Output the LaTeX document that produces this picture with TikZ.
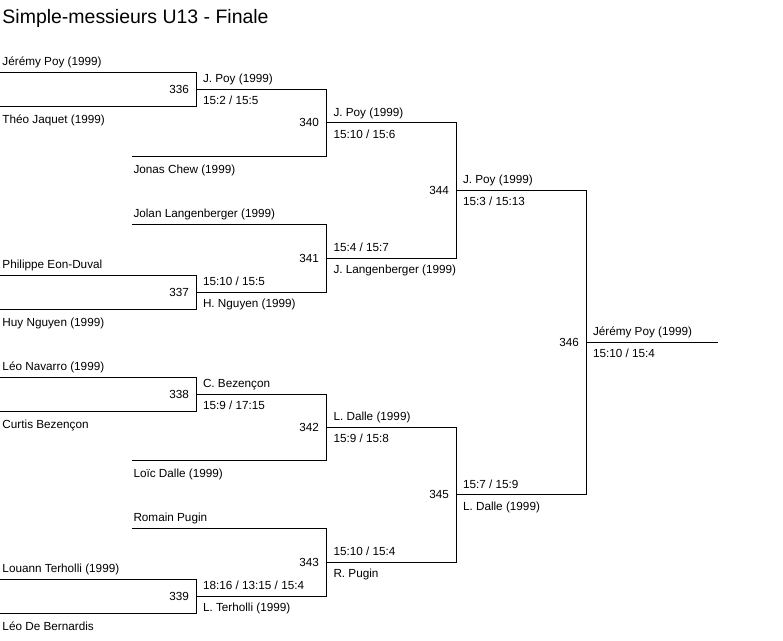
\documentclass[tikz,border=0pt]{standalone}
\usepackage{fontspec}
\setmainfont{Liberation Sans}
\usepackage{tikz}

\begin{document}
\begin{tikzpicture}[
      x=0.75pt,
      y=-0.75pt,
      line width=0.75pt,
      spieler/.style={
        anchor=base west,
        inner sep=0pt,
        font=\fontsize{8.8}{10}\selectfont
      },
      spiel/.style={
        coordinate,
        label={[inner sep=0pt,label distance=5.25pt,font=\fontsize{8.8}{10}\selectfont]left:#1}
      }
    ]
      \useasboundingbox (0,0) rectangle (783,640);

      \node (titel) at (2,23) [anchor=base west,inner sep=0pt,font=\fontsize{14.6}{17}\selectfont]{Simple-messieurs U13 - Finale};

      \begin{scope}[shift={(0.5,0.5)}]
      \coordinate (s1) at (0,72);
      \coordinate (s2) at (0,106);
      \coordinate (s3) at (131,156);
      \coordinate (s4) at (131,224);
      \coordinate (s5) at (0,275);
      \coordinate (s6) at (0,309);
      \coordinate (s7) at (0,377);
      \coordinate (s8) at (0,411);
      \coordinate (s9) at (131,460);
      \coordinate (s10) at (131,528);
      \coordinate (s11) at (0,579);
      \coordinate (s12) at (0,613);
      \coordinate (sieger) at (717,342);

      \node (m336) at (196,89) [spiel=336]{};
      \node (m337) at (196,292) [spiel=337]{};
      \node (m338) at (196,394) [spiel=338]{};
      \node (m339) at (196,596) [spiel=339]{};
      \node (m340) at (326,122) [spiel=340]{};
      \node (m341) at (326,258) [spiel=341]{};
      \node (m342) at (326,427) [spiel=342]{};
      \node (m343) at (326,562) [spiel=343]{};
      \node (m344) at (456,190) [spiel=344]{};
      \node (m345) at (456,494) [spiel=345]{};
      \node (m346) at (586,342) [spiel=346]{};
      \end{scope}

      \node (n1) at (2,65.5) [spieler]{Jérémy Poy (1999)};
      \node (n2) at (2,123.5) [spieler]{Théo Jaquet (1999)};
      \node (n3) at (133,173.5) [spieler]{Jonas Chew (1999)};
      \node (n4) at (133,217.5) [spieler]{Jolan Langenberger (1999)};
      \node (n5) at (2,268.5) [spieler]{Philippe Eon-Duval};
      \node (n6) at (2,326.5) [spieler]{Huy Nguyen (1999)};
      \node (n7) at (2,370.5) [spieler]{Léo Navarro (1999)};
      \node (n8) at (2,428.5) [spieler]{Curtis Bezençon};
      \node (n9) at (133,477.5) [spieler]{Loïc Dalle (1999)};
      \node (n10) at (133,521.5) [spieler]{Romain Pugin};
      \node (n11) at (2,572.5) [spieler]{Louann Terholli (1999)};
      \node (n12) at (2,630.5) [spieler]{Léo De Bernardis};

      \node (w336) at (202.5,82.5) [spieler]{J. Poy (1999)};
      \node (r336) at (202.5,104.5) [spieler]{15:2 / 15:5};
      \node (r337) at (202.5,285.5) [spieler]{15:10 / 15:5};
      \node (w337) at (202.5,307.5) [spieler]{H. Nguyen (1999)};
      \node (w338) at (202.5,387.5) [spieler]{C. Bezençon};
      \node (r338) at (202.5,409.5) [spieler]{15:9 / 17:15};
      \node (r339) at (202.5,589.5) [spieler]{18:16 / 13:15 / 15:4};
      \node (w339) at (202.5,611.5) [spieler]{L. Terholli (1999)};

      \node (w340) at (333,116) [spieler]{J. Poy (1999)};
      \node (r340) at (333,138) [spieler]{15:10 / 15:6};
      \node (r341) at (333,251.5) [spieler]{15:4 / 15:7};
      \node (w341) at (333,273.5) [spieler]{J. Langenberger (1999)};
      \node (w342) at (333,420.5) [spieler]{L. Dalle (1999)};
      \node (r342) at (333,442.5) [spieler]{15:9 / 15:8};
      \node (r343) at (333,555.5) [spieler]{15:10 / 15:4};
      \node (w343) at (333,577.5) [spieler]{R. Pugin};

      \node (w344) at (462.5,183.5) [spieler]{J. Poy (1999)};
      \node (r344) at (462.5,205.5) [spieler]{15:3 / 15:13};
      \node (r345) at (462.5,488) [spieler]{15:7 / 15:9};
      \node (w345) at (462.5,510) [spieler]{L. Dalle (1999)};

      \node (w346) at (592.5,335.5) [spieler]{Jérémy Poy (1999)};
      \node (r346) at (592.5,357.5) [spieler]{15:10 / 15:4};

      \draw (s1) -| (m336) |- (s2);
      \draw (s5) -| (m337) |- (s6);
      \draw (s7) -| (m338) |- (s8);
      \draw (s11) -| (m339) |- (s12);

      \draw (m336) -| (m340) |- (s3);
      \draw (s4) -| (m341) |- (m337);
      \draw (m338) -| (m342) |- (s9);
      \draw (s10) -| (m343) |- (m339);

      \draw (m340) -| (m344) |- (m341);
      \draw (m342) -| (m345) |- (m343);

      \draw (m344) -| (m346) |- (m345);
      \draw (m346) -- (sieger);

    \end{tikzpicture}
\end{document}
